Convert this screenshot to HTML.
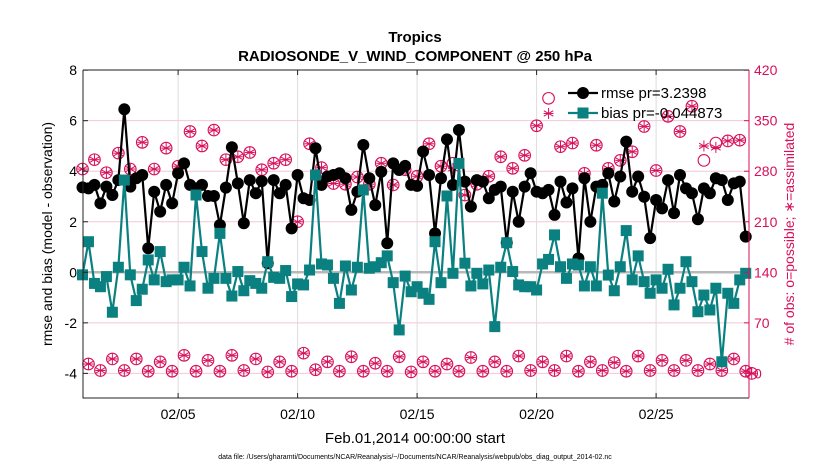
<!DOCTYPE html>
<html><head><meta charset="utf-8"><style>
body{margin:0;background:#fff;}
svg{display:block;font-family:"Liberation Sans",sans-serif;}
</style></head><body>
<svg id="chart" width="830" height="470" viewBox="0 0 830 470">
<text x="415" y="42" text-anchor="middle" font-size="15" font-weight="bold">Tropics</text>
<text x="415" y="61" text-anchor="middle" font-size="15" font-weight="bold">RADIOSONDE_V_WIND_COMPONENT @ 250 hPa</text>
<text transform="translate(52,234) rotate(-90)" text-anchor="middle" font-size="14">rmse and bias (model - observation)</text>
<text transform="translate(794,234) rotate(-90)" text-anchor="middle" font-size="14" fill="#d8105a"># of obs: o=possible; ∗=assimilated</text>
<text x="415" y="443" text-anchor="middle" font-size="15">Feb.01,2014 00:00:00 start</text>
<text x="415" y="459" text-anchor="middle" font-size="7">data file: /Users/gharamti/Documents/NCAR/Reanalysis/~/Documents/NCAR/Reanalysis/webpub/obs_diag_output_2014-02.nc</text>
<g id="grid"></g><g id="marks"></g><g id="axes"></g><g id="legend"></g>
</svg>
<script>
const rmse=[3.36,3.32,3.46,2.73,3.39,3.06,3.65,6.45,3.39,3.72,3.85,0.95,3.19,2.4,3.46,2.73,3.92,4.31,3.46,3.32,3.46,3.02,3.02,1.87,3.35,4.95,3.52,1.94,3.65,3.13,3.61,0.36,3.65,3.13,3.46,1.74,3.85,2.93,2.86,4.91,3.46,3.79,3.85,3.92,3.72,2.47,3.19,5.04,3.72,2.66,3.98,1.15,4.31,4.05,4.21,3.46,3.42,4.78,3.85,1.54,3.72,5.26,3.46,5.63,3.59,2.6,3.65,3.59,2.93,3.26,3.39,1.17,3.19,2.0,3.39,3.92,3.19,3.13,3.26,2.27,3.59,2.76,3.32,0.55,3.72,2.0,3.39,3.46,3.92,2.8,3.79,5.17,3.19,3.79,2.99,1.35,2.86,2.53,3.65,2.34,3.85,3.32,3.13,2.1,3.32,3.13,3.72,3.65,2.86,3.52,3.59,1.41];
const bias=[-0.1,1.21,-0.44,-0.57,-0.17,-1.58,0.2,3.65,-0.1,-1.12,-0.67,0.49,-0.3,0.82,-0.37,-0.3,-0.3,0.2,-0.54,3.06,0.82,-0.63,-0.24,1.54,-0.24,-0.94,0.03,-0.73,-0.33,-0.44,-0.63,0.42,-0.2,-0.24,0.07,-0.96,-0.46,-0.5,0.09,3.85,0.33,0.29,-0.24,-1.23,0.25,-0.7,0.2,3.26,0.16,0.22,0.38,0.65,-0.41,-2.28,-0.15,-0.77,-0.57,-0.83,-1.07,1.21,-0.41,3.02,-0.04,4.31,0.36,-0.54,-0.04,-0.46,0.09,-2.15,0.2,1.17,0.03,-0.5,-0.57,-0.57,-0.7,0.33,0.51,1.48,0.22,-0.24,0.33,0.29,-0.54,0.22,-0.54,3.13,-0.11,-0.73,0.22,1.65,-0.3,0.65,-0.37,-0.83,-0.3,-0.63,0.12,-1.29,-0.63,0.42,-0.37,-1.56,-0.9,-1.49,-0.63,-3.54,-0.83,-1.23,-0.3,-0.04];
const obsPossible=[283,13,296,4,278,20,305,4,283,20,320,3,283,16,312,3,287,25,335,3,315,18,337,3,296,25,300,4,306,20,282,2,291,16,296,3,210,28,318,5,285,16,263,3,262,23,272,3,262,14,291,3,261,23,282,2,273,16,318,3,287,13,291,3,247,22,262,3,273,16,300,3,284,24,302,4,343,16,381,4,314,24,319,3,277,16,316,4,284,15,295,3,307,24,342,4,281,18,356,4,335,18,370,4,295,13,319,4,322,20,323,3,0];
const obsAssim=[283,13,296,4,278,20,305,4,283,20,320,3,283,16,312,3,287,25,335,3,315,18,337,3,296,25,300,4,306,20,282,2,291,16,296,3,210,28,318,5,285,16,263,3,262,23,272,3,262,14,291,3,261,23,282,2,273,16,318,3,287,13,284,3,247,22,262,3,273,16,300,3,284,24,302,4,343,16,360,4,314,24,319,3,277,16,316,4,284,15,295,3,307,24,342,4,281,18,356,4,335,18,370,4,315,13,313,4,322,20,323,3,0];
const leftTicks=[-4,-2,0,2,4,6,8];
const rightTicks=[0,70,140,210,280,350,420];
const xTickDays=[5,10,15,20,25];
const xTickLabels=["02/05","02/10","02/15","02/20","02/25"];
const legendLabels=["rmse pr=3.2398","bias pr=-0.044873"];

const NS="http://www.w3.org/2000/svg";
const L=83,R=749,T=70,B=398,X0=82.5,DAYW=23.9;
const yL=v=>272.3-(v)*25.27;
const yR=c=>yL(c/35-4);
const xDay=d=>X0+(d-1)*DAYW;
const xIdx=i=>X0+i*DAYW/4;
function el(tag,attrs,parent){const e=document.createElementNS(NS,tag);for(const k in attrs)e.setAttribute(k,attrs[k]);parent.appendChild(e);return e;}
const grid=document.getElementById('grid'),marks=document.getElementById('marks'),axes=document.getElementById('axes'),leg=document.getElementById('legend');
const CR="#d8105a",TEAL="#0a8080";

leftTicks.forEach(v=>{
  const g=el('line',{x1:L,x2:R,y1:yL(v),y2:yL(v),stroke:'#f2c8d6','stroke-width':1},grid);
  
  
  const t=el('text',{x:L-6,y:yL(v)+5,'text-anchor':'end','font-size':14},axes);t.textContent=v;
  
  
  el('line',{x1:L,x2:L+5,y1:yL(v),y2:yL(v),stroke:'#222'},axes);
});
rightTicks.forEach(c=>{
  const t=el('text',{x:R+5,y:yR(c)+5,'font-size':14,fill:CR},axes);t.textContent=c;
  
  
  el('line',{x1:R-5,x2:R,y1:yR(c),y2:yR(c),stroke:CR},axes);
});
xTickDays.forEach((d,i)=>{
  const g=el('line',{x1:xDay(d),x2:xDay(d),y1:T,y2:B,stroke:'#dcdcdc'},grid);
  
  
  el('line',{x1:xDay(d),x2:xDay(d),y1:B,y2:B-5,stroke:'#222'},axes);
  el('line',{x1:xDay(d),x2:xDay(d),y1:T,y2:T+5,stroke:'#222'},axes);
  const t=el('text',{x:xDay(d),y:B+21,'text-anchor':'middle','font-size':14},axes);t.textContent=xTickLabels[i];
  
  
});
const z=el('line',{x1:L,x2:R,y1:yL(0),y2:yL(0),stroke:'#b8b8b8','stroke-width':2.5},grid);


const box=el('path',{d:`M${L},${T}H${R}M${L},${T}V${B}H${R}`,fill:'none',stroke:'#222','stroke-width':1},axes);


el('line',{x1:R,x2:R,y1:T,y2:B,stroke:CR,'stroke-width':1},axes);

function star(cx,cy,r,p,name){
  const g=el('g',{stroke:CR,'stroke-width':1,fill:'none'},p);
  
  
  for(let k=0;k<3;k++){const a=k*Math.PI/3+Math.PI/2;el('line',{x1:cx-r*Math.cos(a),y1:cy-r*Math.sin(a),x2:cx+r*Math.cos(a),y2:cy+r*Math.sin(a)},g);}
  el('line',{x1:cx-r*0.9,x2:cx+r*0.9,y1:cy,y2:cy},g);
}
obsPossible.forEach((c,i)=>{
  const ci=el('circle',{cx:xIdx(i),cy:yR(c),r:5.8,fill:'none',stroke:CR,'stroke-width':1.1},marks);
  
  
});
obsAssim.forEach((c,i)=>star(xIdx(i),yR(c),5.5,marks,'obs-assimilated-marker'));

function series(vals,color,shape,name){
  const pl=el('polyline',{points:vals.map((v,i)=>xIdx(i)+','+yL(v)).join(' '),fill:'none',stroke:color,'stroke-width':2.2},marks);
  
  
  vals.forEach((v,i)=>{
    let m;
    if(shape==='c')m=el('circle',{cx:xIdx(i),cy:yL(v),r:6,fill:color},marks);
    else m=el('rect',{x:xIdx(i)-5.5,y:yL(v)-5.5,width:11,height:11,fill:color},marks);
    
    
  });
}
series(rmse,'#000','c','rmse');
series(bias,TEAL,'s','bias');

[[ '#000','c'],[TEAL,'s']].forEach((s,k)=>{
  const y=93+k*20;
  const g=el('g',{},leg);
  
  
  el('line',{x1:568,x2:598,y1:y,y2:y,stroke:s[0],'stroke-width':2.2},g);
  if(s[1]==='c')el('circle',{cx:583,cy:y,r:6,fill:s[0]},g);else el('rect',{x:577.5,y:y-5.5,width:11,height:11,fill:s[0]},g);
  const t=el('text',{x:601,y:y+5,'font-size':15},g);t.textContent=legendLabels[k];
});
</script>
</body></html>
